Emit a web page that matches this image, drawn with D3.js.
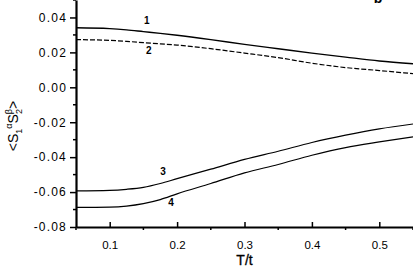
<!DOCTYPE html>
<html>
<head>
<meta charset="utf-8">
<script src="https://cdn.jsdelivr.net/npm/d3@7"></script>
<style>
  body { margin: 0; background: #fff; }
  svg { display: block; font-family: "Liberation Sans", Arial, sans-serif; }
</style>
</head>
<body>
<svg width="413" height="268"></svg>
<script>
// values
const tValues = [0.05, 0.1, 0.125, 0.15, 0.175, 0.2, 0.25, 0.3, 0.35, 0.4, 0.45, 0.5, 0.55];
const curve1 = [0.0341, 0.0336, 0.0329, 0.0319, 0.0309, 0.0298, 0.0273, 0.0246, 0.0221, 0.0196, 0.0173, 0.0151, 0.0135];
const curve2 = [0.0273, 0.0269, 0.0263, 0.0256, 0.0249, 0.0242, 0.0221, 0.0196, 0.0170, 0.0138, 0.0113, 0.0096, 0.0078];
const curve3 = [-0.0593, -0.0590, -0.0584, -0.0573, -0.0551, -0.0523, -0.0469, -0.0413, -0.0366, -0.0316, -0.0274, -0.0238, -0.0210];
const curve4 = [-0.0688, -0.0686, -0.0680, -0.0666, -0.0643, -0.0610, -0.0551, -0.0490, -0.0442, -0.0389, -0.0345, -0.0313, -0.0284];
const curveNames = ["1", "2", "3", "4"];
const labelAt = [[0.155, 0.036], [0.158, 0.019], [0.179, -0.0502], [0.191, -0.068]];

const xTicks = [0.1, 0.2, 0.3, 0.4, 0.5];
const xMinor = [0.05, 0.15, 0.25, 0.35, 0.45, 0.55];
const yTicks = [-0.08, -0.06, -0.04, -0.02, 0, 0.02, 0.04];
const yMinor = [-0.07, -0.05, -0.03, -0.01, 0.01, 0.03, 0.05];

const svg = d3.select("svg");
let xScale = d3.scaleLinear().domain([0.05, 0.55]).range([76, 413]);
let yScale = d3.scaleLinear().domain([-0.08, 0.05]).range([227, 0]);

// curves
const series = [curve1, curve2, curve3, curve4];
let line = d3.line()
  .x(d => xScale(d[0]))
  .y(d => yScale(d[1]))
  .curve(d3.curveMonotoneX);

series.forEach((vals, i) => {
  svg.append("path")
    .attr("d", line(tValues.map((t, j) => [t, vals[j]])))
    .attr("fill", "none")
    .attr("stroke", "black")
    .attr("stroke-width", i == 0 ? 1.4 : 1.2)
    .attr("stroke-dasharray", i == 1 ? "5,2" : null);
});

// curve numbers
curveNames.forEach((name, i) => {
  svg.append("text")
    .attr("x", xScale(labelAt[i][0]))
    .attr("y", yScale(labelAt[i][1]))
    .attr("text-anchor", "middle")
    .attr("font-size", 10)
    .attr("font-weight", "bold")
    .text(name);
});

// y axis
let yAxis = d3.axisLeft(yScale)
  .tickValues(yTicks)
  .tickFormat(d => d.toFixed(2))
  .tickSizeInner(6).tickSizeOuter(0).tickPadding(3);
svg.append("g").attr("id", "yAxisG")
  .attr("transform", "translate(76, 0)")
  .call(yAxis);
svg.select("#yAxisG").selectAll(".minor")
  .data(yMinor).enter().append("line")
  .attr("class", "minor")
  .attr("x1", -3).attr("x2", 0)
  .attr("y1", d => yScale(d)).attr("y2", d => yScale(d))
  .attr("stroke", "black").attr("stroke-width", 1.5);

// x axis
let xAxis = d3.axisBottom(xScale)
  .tickValues(xTicks)
  .tickFormat(d => d.toFixed(1))
  .tickSizeInner(-5).tickSizeOuter(0).tickPadding(14);
svg.append("g").attr("id", "xAxisG")
  .attr("transform", "translate(0, 227)")
  .call(xAxis);
svg.select("#xAxisG").selectAll(".minor")
  .data(xMinor).enter().append("line")
  .attr("class", "minor")
  .attr("x1", d => xScale(d)).attr("x2", d => xScale(d))
  .attr("y1", 0).attr("y2", 3)
  .attr("stroke", "black").attr("stroke-width", 1.5);

svg.selectAll("#yAxisG path.domain, #xAxisG path.domain")
  .attr("stroke", "black").attr("stroke-width", 2.2);
svg.selectAll("#yAxisG g.tick line, #xAxisG g.tick line")
  .attr("stroke", "black").attr("stroke-width", 1.5);
svg.selectAll("#yAxisG text")
  .attr("font-family", "Liberation Sans, Arial, sans-serif")
  .attr("font-size", 12).attr("letter-spacing", 1.2).attr("fill", "black");
svg.selectAll("#xAxisG text")
  .attr("font-family", "Liberation Sans, Arial, sans-serif")
  .attr("font-size", 11.5).attr("fill", "black");

// axis titles
svg.append("text")
  .attr("x", xScale(0.3)).attr("y", 265)
  .attr("text-anchor", "middle")
  .attr("font-size", 14)
  .attr("stroke", "black").attr("stroke-width", 0.3)
  .text("T/t");

let yTitle = svg.append("text")
  .attr("transform", "translate(18, 126) rotate(-90)")
  .attr("text-anchor", "middle")
  .attr("font-size", 14);
yTitle.append("tspan").text("<S");
yTitle.append("tspan").attr("font-size", 9).attr("dy", 4).text("1");
yTitle.append("tspan").attr("font-size", 9).attr("dy", -10).text("α");
yTitle.append("tspan").attr("dy", 6).text("S");
yTitle.append("tspan").attr("font-size", 9).attr("dy", -6).text("β");
yTitle.append("tspan").attr("font-size", 9).attr("dx", -5).attr("dy", 10).text("2");
yTitle.append("tspan").attr("dy", -4).text(">");

// cut-off panel letter at the top edge
svg.append("text")
  .attr("x", 378).attr("y", 3)
  .attr("text-anchor", "middle")
  .attr("font-size", 14).attr("font-weight", "bold")
  .text("b");
</script>
</body>
</html>
